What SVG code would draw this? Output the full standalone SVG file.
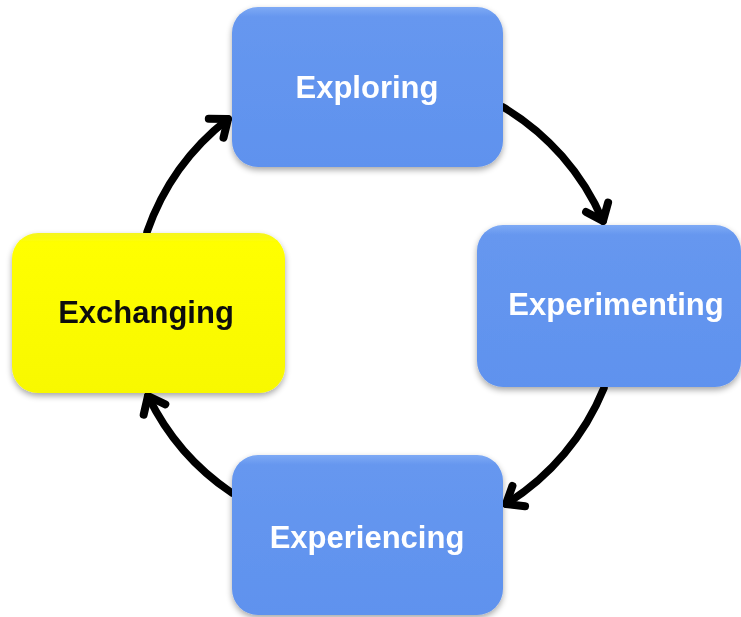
<svg xmlns="http://www.w3.org/2000/svg" width="741" height="617" viewBox="0 0 741 617">
<style>
.box{stroke:none}
.blue{fill:url(#gBlue)}
.yellow{fill:url(#gYellow)}
.lbl{font-family:"Liberation Sans",Arial,sans-serif;font-weight:bold;font-size:31px;text-anchor:middle}
.w{fill:#ffffff}
.k{fill:#111111}
.conn{fill:none;stroke:#000;stroke-width:7.5;stroke-linecap:round;marker-end:url(#head)}
</style>
<defs>
<linearGradient id="gBlue" x1="0" y1="0" x2="0" y2="1">
<stop offset="0" stop-color="#7eaaf5"/>
<stop offset="0.06" stop-color="#6697ef"/>
<stop offset="1" stop-color="#5f92ee"/>
</linearGradient>
<linearGradient id="gYellow" x1="0" y1="0" x2="0" y2="1">
<stop offset="0" stop-color="#f5f520"/>
<stop offset="0.06" stop-color="#ffff00"/>
<stop offset="1" stop-color="#f8f800"/>
</linearGradient>
<filter id="shadow" x="-10%" y="-10%" width="120%" height="125%">
<feGaussianBlur in="SourceAlpha" stdDeviation="3"/>
<feOffset dx="0" dy="3" result="b"/>
<feComponentTransfer><feFuncA type="linear" slope="0.35"/></feComponentTransfer>
<feMerge><feMergeNode/><feMergeNode in="SourceGraphic"/></feMerge>
</filter>
<marker id="head" markerUnits="userSpaceOnUse" markerWidth="40" markerHeight="40" refX="0" refY="0" viewBox="-25 -20 40 40" orient="auto" overflow="visible">
<path d="M-15,-12 L0,0 L-15,12" fill="none" stroke="#000" stroke-width="8" stroke-linecap="round" stroke-linejoin="round"/>
</marker>
</defs>
<g id="connectors">
<path class="conn" d="M503,107 A245,245 0 0 1 603,221"/>
<path class="conn" d="M604,388 A245,245 0 0 1 506,504"/>
<path class="conn" d="M232,493 A245,245 0 0 1 148,396"/>
<path class="conn" d="M147,232 A245,245 0 0 1 228,119"/>
</g>
<g id="exploring" filter="url(#shadow)">
<rect class="box blue" x="232" y="7" width="271" height="160" rx="26"/>
<text class="lbl w" x="367" y="98">Exploring</text>
</g>
<g id="experimenting" filter="url(#shadow)">
<rect class="box blue" x="477" y="225" width="264" height="162" rx="26"/>
<text class="lbl w" x="616" y="315">Experimenting</text>
</g>
<g id="experiencing" filter="url(#shadow)">
<rect class="box blue" x="232" y="455" width="271" height="160" rx="26"/>
<text class="lbl w" x="367" y="548">Experiencing</text>
</g>
<g id="exchanging" filter="url(#shadow)">
<rect class="box yellow" x="12" y="233" width="273" height="160" rx="26"/>
<text class="lbl k" x="146" y="323">Exchanging</text>
</g>
</svg>
